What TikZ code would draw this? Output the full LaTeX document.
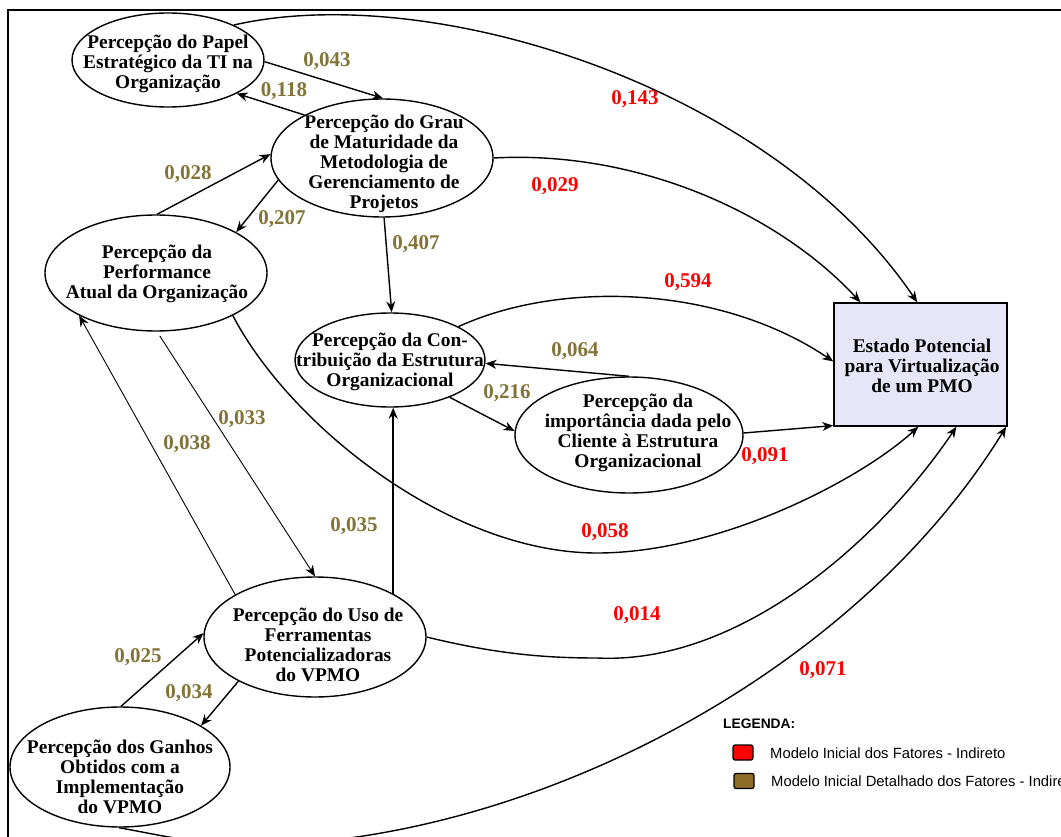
\documentclass[tikz,border=0pt]{standalone}
\usepackage{fontspec}
\setmainfont{Liberation Serif}
\newfontfamily\legfont{Liberation Sans}
\usetikzlibrary{shapes.geometric,arrows.meta,calc}
\definecolor{olivelab}{RGB}{130,115,55}
\definecolor{legbrown}{RGB}{140,108,38}
\definecolor{boxfill}{RGB}{230,230,248}
\begin{document}
\begin{tikzpicture}[x=1pt,y=-1pt,
 ell/.style={draw,ellipse,fill=white,line width=1.4pt,inner sep=0pt},
 txt/.style={align=center,font=\bfseries\fontsize{19.4}{20}\selectfont,inner sep=0pt},
 val/.style={font=\bfseries\fontsize{21}{22}\selectfont,inner sep=0pt},
 ind/.style={val,text=red},
 det/.style={val,text=olivelab},
 conn/.style={line width=1.4pt,-{Stealth[length=11pt,width=9pt]}},
 thinconn/.style={line width=0.9pt,-{Stealth[length=11pt,width=9pt]}},
 legtxt/.style={font=\legfont\fontsize{14.8}{16}\selectfont,anchor=west,inner sep=0pt},
]
\useasboundingbox (0,0) rectangle (1061,837);
\clip (0,0) rectangle (1061,837);
\fill[white] (0,0) rectangle (1061,837);
\draw[line width=2.5pt] (8,837) -- (8,10) -- (1062,10);

% nodes
\node[ell,minimum width=192pt,minimum height=94pt] (papel) at (168,60) {};
\node[ell,minimum width=222pt,minimum height=118pt] (grau) at (382,158) {};
\node[ell,minimum width=222pt,minimum height=116pt] (perf) at (156,273) {};
\node[ell,minimum width=190pt,minimum height=94pt] (contrib) at (390,360) {};
\node[ell,minimum width=228pt,minimum height=116pt] (imp) at (629,435) {};
\node[ell,minimum width=222pt,minimum height=120pt] (uso) at (315,637) {};
\node[ell,minimum width=220pt,minimum height=120pt] (ganhos) at (120,767) {};
\node[draw,fill=boxfill,line width=1.5pt,minimum width=173pt,minimum height=123pt,inner sep=0pt] (box) at (920.5,364.5) {};

\node[txt] (papel-t) at (168,64) {Percepção do Papel\\Estratégico da TI na\\Organização};
\node[txt] (grau-t) at (384,164) {Percepção do Grau\\de Maturidade da\\Metodologia de\\Gerenciamento de\\Projetos};
\node[txt] (perf-t) at (157,274) {Percepção da\\Performance\\Atual da Organização};
\node[txt] (contrib-t) at (390,362) {Percepção da Con-\\tribuição da Estrutura\\Organizacional};
\node[txt] (imp-t) at (638,433) {Percepção da\\importância dada pelo\\Cliente à Estrutura\\Organizacional};
\node[txt] (box-t) at (922,366) {Estado Potencial\\para Virtualização\\de um PMO};
\node[txt] (uso-t) at (318,645) {Percepção do Uso de\\Ferramentas\\Potencializadoras\\do VPMO};
\node[txt] (ganhos-t) at (120,777) {Percepção dos Ganhos\\Obtidos com a\\Implementação\\do VPMO};

% connectors
\draw[conn] (papel.-1) -- (grau.89);
\draw[conn] (grau.151) -- (papel.-26);
\draw[conn] (perf.89) -- (grau.178);
\draw[conn] (grau.192) -- (perf.27);
\draw[conn] (grau.-88) -- (contrib.88);
\draw[conn] (papel.28) .. controls (430,-20) and (770,85) .. (box.93);
\draw[conn] (grau.0) .. controls (640,150) and (780,215) .. (box.134);
\draw[conn] (contrib.26) .. controls (560,280) and (720,285) .. (box.178);
\draw[conn] (imp.north) -- (contrib.-2);
\draw[conn] (contrib.-32) -- (imp.178);
\draw[conn] (imp.1) -- (box.215);
\draw[conn] (perf.-29) .. controls (290,425) and (450,553) .. (597,553) .. controls (720,553) and (860,480) .. (box.-92);
\draw[thinconn,shorten <=5pt] (perf.-89) -- (uso.north);
\draw[thinconn] (uso.152) -- (perf.209);
\draw[conn] (uso.29) -- (uso.29 |- contrib.south);
\draw[conn] (uso.0) .. controls (500,655) and (550,658) .. (597,658) .. controls (740,665) and (880,540) .. (box.-60);
\draw[conn] (ganhos.89) -- (uso.178);
\draw[conn] (uso.210) -- (ganhos.27);
\draw[conn] (ganhos.-91) .. controls (160,835) and (200,845) .. (250,845) .. controls (520,845) and (850,680) .. (box.-36);

% values
\node[det] (l043) at (327,61) {0,043};
\node[det] (l118) at (284,91) {0,118};
\node[det] (l028) at (188,174) {0,028};
\node[det] (l207) at (282,219) {0,207};
\node[det] (l407) at (416,244) {0,407};
\node[ind] (l143) at (635,99) {0,143};
\node[ind] (l029) at (555,186) {0,029};
\node[ind] (l594) at (688,282) {0,594};
\node[det] (l064) at (575,351) {0,064};
\node[det] (l216) at (507,393) {0,216};
\node[ind] (l091) at (765,456) {0,091};
\node[ind] (l058) at (605,532) {0,058};
\node[det] (l033) at (242,419) {0,033};
\node[det] (l038) at (187,444) {0,038};
\node[det] (l035) at (354,526) {0,035};
\node[ind] (l014) at (637,615) {0,014};
\node[ind] (l071) at (823,670) {0,071};
\node[det] (l025) at (138,657) {0,025};
\node[det] (l034) at (189,693) {0,034};

% legend
\node[legtxt,font=\legfont\bfseries\fontsize{13.8}{15}\selectfont] (leg) at (723,724) {LEGENDA:};
\node[draw,fill=red,rounded corners=2pt,line width=1.2pt,minimum width=20pt,minimum height=15pt,inner sep=0pt] (sqr) at (743,752.5) {};
\node[draw,fill=legbrown,rounded corners=2pt,line width=1.2pt,minimum width=20pt,minimum height=15pt,inner sep=0pt] (sqb) at (744,781) {};
\node[legtxt] (legr) at (770,753) {Modelo Inicial dos Fatores - Indireto};
\node[legtxt] (legb) at (771,781) {Modelo Inicial Detalhado dos Fatores - Indireto};
\end{tikzpicture}
\end{document}
